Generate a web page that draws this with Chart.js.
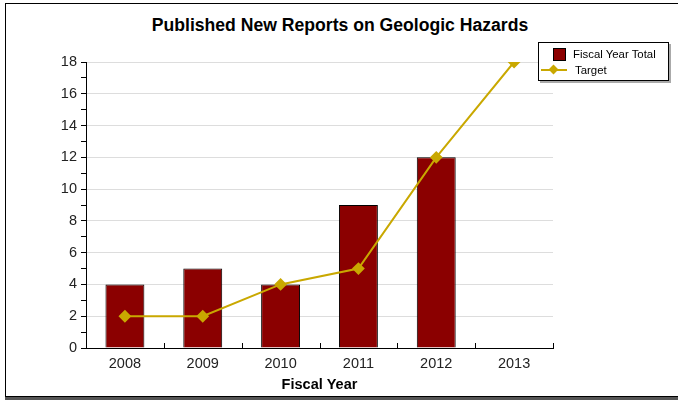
<!DOCTYPE html>
<html>
<head>
<meta charset="utf-8">
<script src="https://cdn.jsdelivr.net/npm/chart.js@4"></script>
<style>
  body { margin: 0; background: #fff; font-family: "Liberation Sans", Arial, sans-serif; }
  #frame { position: absolute; left: 5px; top: 3px; width: 690px; height: 392px;
           border: 1.5px solid #000; box-shadow: 0 3px 0 #555; }
  #title { position: absolute; left: 0; top: 15px; width: 680px; text-align: center;
           font-weight: bold; font-size: 17.6px; color: #000; }
  #chart { position: absolute; left: 0; top: 0; }
  #legend { position: absolute; left: 538px; top: 42px; width: 129px; height: 37px;
            border: 1px solid #000; background: #fff; box-shadow: 2px 2px 0 #aaa;
            font-size: 11.4px; color: #000; }
  .row { position: absolute; left: 0; height: 14px; line-height: 14px; white-space: nowrap; }
  .sq { position: absolute; left: 14px; top: 1px; width: 11px; height: 11px;
        background: #8b0000; border: 1px solid #000; }
  .ln { position: absolute; left: 2px; top: 6px; width: 26px; height: 2px; background: #c9a800; }
  .dm { position: absolute; left: 11px; top: 3px; width: 7px; height: 7px;
        background: #c9a800; transform: rotate(45deg); }
  .lbl { position: absolute; left: 34px; }
</style>
</head>
<body>
<div id="frame"></div>
<div id="title">Published New Reports on Geologic Hazards</div>
<canvas id="chart" width="678" height="400"></canvas>
<div id="legend">
  <div class="row" style="top:4px"><div class="sq"></div><span class="lbl">Fiscal Year Total</span></div>
  <div class="row" style="top:20px"><div class="ln"></div><div class="dm"></div><span class="lbl" style="left:36px">Target</span></div>
</div>
<script>
const years = ["2008", "2009", "2010", "2011", "2012", "2013"];
const fiscalYearTotal = [4, 5, 4, 9, 12, null];
const target = [2, 2, 4, 5, 12, 18];

const barColor = '#8b0000';
const lineColor = '#c9a800';

// small tick marks pointing up from the x axis at category boundaries
const innerTicks = {
    id: 'innerTicks',
    afterDraw(chart) {
        const x = chart.scales.x;
        const ctx = chart.ctx;
        const half = (x.getPixelForValue(1) - x.getPixelForValue(0)) / 2;
        ctx.save();
        ctx.strokeStyle = '#000';
        ctx.lineWidth = 1;
        ctx.beginPath();
        for (let i = 0; i < years.length; i++) {
            const px = Math.round(x.getPixelForValue(i) + half) + 0.5;
            ctx.moveTo(px, x.top);
            ctx.lineTo(px, x.top - 5);
        }
        ctx.stroke();
        ctx.restore();
    }
};

new Chart(document.getElementById('chart').getContext('2d'), {
    data: {
        labels: years,
        datasets: [{
            type: 'line',
            label: 'Target',
            data: target,
            borderColor: lineColor,
            backgroundColor: lineColor,
            borderWidth: 2,
            pointStyle: 'rectRot',
            pointRadius: 5,
            pointBackgroundColor: lineColor,
            pointBorderColor: lineColor,
            tension: 0,
            order: 0,
        }, {
            type: 'bar',
            label: 'Fiscal Year Total',
            data: fiscalYearTotal,
            backgroundColor: barColor,
            borderColor: '#000',
            borderWidth: 1,
            barPercentage: 0.5,
            categoryPercentage: 1,
            order: 1,
        }],
    },
    options: {
        responsive: false,
        animation: false,
        layout: { padding: { top: 62, right: 125, bottom: 0, left: 0 } },
        plugins: { legend: { display: false }, tooltip: { enabled: false } },
        scales: {
            x: {
                grid: { display: true, drawOnChartArea: false, drawTicks: false },
                border: { color: '#000', width: 1 },
                ticks: { color: '#222', font: { family: 'Liberation Sans', size: 14.5 }, padding: 7 },
                title: {
                    display: true, text: 'Fiscal Year', color: '#000',
                    font: { family: 'Liberation Sans', size: 14.5, weight: 'bold' },
                    padding: { top: 0, bottom: 6 },
                },
                afterFit(scale) { scale.height = 52; },
            },
            y: {
                min: 0,
                max: 18,
                ticks: {
                    stepSize: 1,
                    autoSkip: false,
                    color: '#222',
                    font: { family: 'Liberation Sans', size: 14.5 },
                    padding: 4,
                    callback: (v) => (v % 2 === 0 ? v : ''),
                },
                grid: {
                    color: (c) => (c.tick && c.tick.value % 2 === 0 ? '#dddddd' : 'rgba(0,0,0,0)'),
                    tickColor: '#000',
                    tickLength: 5,
                },
                border: { color: '#000', width: 1 },
                afterFit(scale) { scale.width = 86; },
            },
        },
    },
    plugins: [innerTicks],
});
</script>
</body>
</html>
